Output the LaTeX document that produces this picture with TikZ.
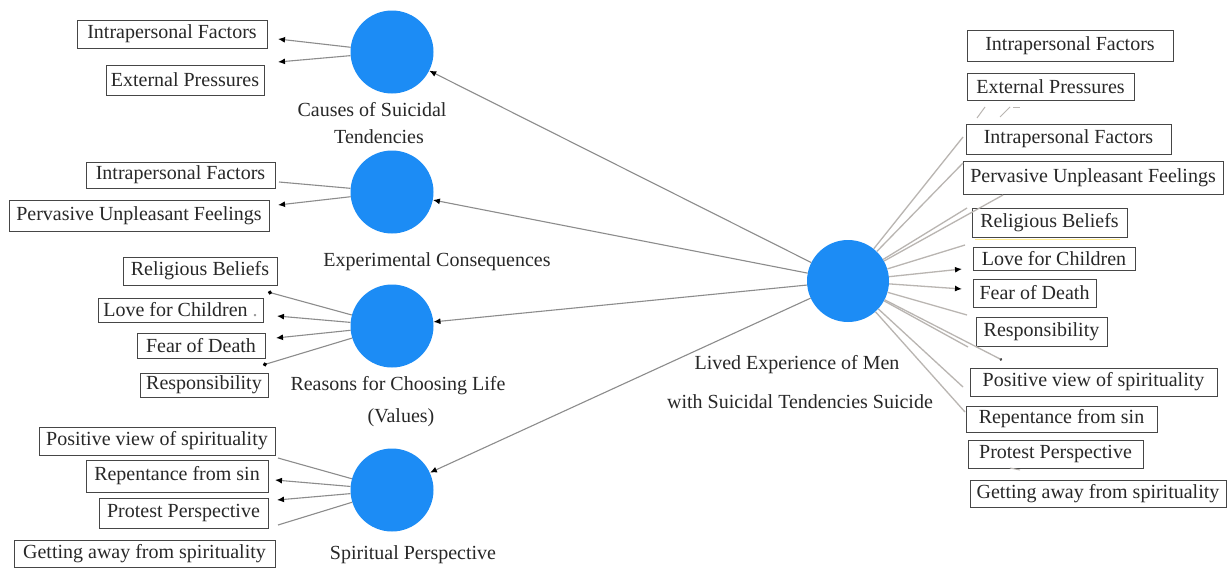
\documentclass[tikz,border=0pt]{standalone}
\usepackage{fontspec}
\setmainfont{Liberation Serif}
\newfontfamily\timesfont{Liberation Serif}
\usetikzlibrary{arrows.meta}
\definecolor{nodeblue}{RGB}{28,140,245}
\definecolor{txt}{RGB}{40,40,40}
\definecolor{edgegray}{RGB}{140,140,140}
\definecolor{rightgray}{RGB}{185,181,177}
\definecolor{boxgray}{RGB}{70,70,70}
\tikzset{
  lat/.style={circle, fill=nodeblue, minimum size=83pt, inner sep=0pt},
  ind/.style={draw=boxgray, line width=0.8pt, inner sep=0pt, text=txt, font=\timesfont\fontsize{20}{24}\selectfont},
  lbl/.style={text=txt, font=\timesfont\fontsize{20}{24}\selectfont, inner sep=0pt},
  lconn/.style={draw=edgegray, line width=1.1pt},
  rconn/.style={draw=rightgray, line width=1.3pt},
  tipa/.style={-{Latex[length=7pt,width=6pt,color=black]}},
  tipd/.style={-{Circle[length=4pt,color=black]}},
}
\begin{document}
\begin{tikzpicture}[x=1pt,y=-1pt]
\useasboundingbox (0,0) rectangle (1230,570);
\fill[white] (0,0) rectangle (1230,570);

% latent circles
\node[lat] (c1) at (392,52) {};
\node[lat] (c2) at (392,192) {};
\node[lat] (c3) at (392,326) {};
\node[lat] (c4) at (392,490) {};
\node[lat, minimum size=82pt] (cc) at (848,281) {};

% circle labels
\node[lbl] (c1a) at (372,110) {Causes of Suicidal};
\node[lbl] (c1b) at (379,137) {Tendencies};
\node[lbl] (c2a) at (437,262) {Experimental Consequences};
\node[lbl] (c3a) at (398,386) {Reasons for Choosing Life};
\node[lbl] (c3b) at (401,418) {(Values)};
\node[lbl] (c4a) at (413,555) {Spiritual Perspective};
\node[lbl] (cca) at (797,365) {Lived Experience of Men};
\node[lbl] (ccb) at (800,402) {with Suicidal Tendencies Suicide};

% left boxes
\node[ind, minimum width=190pt, minimum height=28pt] (l1) at (172,34) {Intrapersonal Factors};
\node[ind, minimum width=158pt, minimum height=30pt] (l2) at (185,80) {External Pressures};
\node[ind, minimum width=189pt, minimum height=26pt] (l3) at (180.5,175) {Intrapersonal Factors};
\node[ind, minimum width=260pt, minimum height=31pt] (l4) at (139,215.5) {Pervasive Unpleasant Feelings};
\node[ind, minimum width=154pt, minimum height=28pt] (l5) at (200,271) {Religious Beliefs};
\node[ind, minimum width=165pt, minimum height=24pt] (l6) at (180.5,310) {Love for Children \textcolor{black!40}{.}};
\node[ind, minimum width=128pt, minimum height=25pt] (l7) at (201,345.5) {Fear of Death};
\node[ind, minimum width=128pt, minimum height=24pt] (l8) at (204,385) {Responsibility};
\node[ind, minimum width=236pt, minimum height=28pt] (l9) at (157,441) {Positive view of spirituality};
\node[ind, minimum width=182pt, minimum height=32pt] (l10) at (177,476) {Repentance from sin};
\node[ind, minimum width=169pt, minimum height=30pt] (l11) at (183.5,513) {Protest Perspective};
\node[ind, minimum width=261pt, minimum height=27pt] (l12) at (144.5,553.5) {Getting away from spirituality};

% right boxes
\node[ind, minimum width=206pt, minimum height=31pt] (r1) at (1070,45.5) {Intrapersonal Factors};
\node[ind, minimum width=167pt, minimum height=27pt] (r2) at (1050.5,86.5) {External Pressures};
\node[ind, minimum width=205pt, minimum height=30pt] (r3) at (1068.5,139) {Intrapersonal Factors};
\node[ind, minimum width=260pt, minimum height=33pt] (r4) at (1093,177.5) {Pervasive Unpleasant Feelings};
\node[ind, minimum width=155pt, minimum height=29pt] (r5) at (1049.5,222.5) {Religious Beliefs};
\node[ind, minimum width=162pt, minimum height=23pt] (r6) at (1054,258.5) {Love for Children};
\node[ind, minimum width=123pt, minimum height=28pt] (r7) at (1034.5,293) {Fear of Death};
\node[ind, minimum width=131pt, minimum height=29pt] (r8) at (1041.5,331.5) {Responsibility};
\node[ind, minimum width=247pt, minimum height=28pt] (r9) at (1093.5,382) {Positive view of spirituality};
\node[ind, minimum width=191pt, minimum height=26pt] (r10) at (1061.5,419) {Repentance from sin};
\node[ind, minimum width=175pt, minimum height=28pt] (r11) at (1055.5,454) {Protest Perspective};
\node[ind, minimum width=256pt, minimum height=27pt] (r12) at (1098,493.5) {Getting away from spirituality};

% left connector ends
\coordinate (e1a) at (278,39);
\coordinate (e1b) at (278,62);
\coordinate (e2a) at (279,182);
\coordinate (e2b) at (278,205);
\coordinate (e3a) at (268,292);
\coordinate (e3b) at (277,316);
\coordinate (e3c) at (276,338);
\coordinate (e3d) at (263,365);
\coordinate (e4a) at (278,458);
\coordinate (e4b) at (275,480);
\coordinate (e4c) at (277,500);
\coordinate (e4d) at (278,525);

\draw[lconn, tipa] (c1) -- (e1a);
\draw[lconn, tipa] (c1) -- (e1b);
\draw[lconn] (c2) -- (e2a);
\draw[lconn, tipa] (c2) -- (e2b);
\draw[lconn, tipd] (c3) -- (e3a);
\draw[lconn, tipa] (c3) -- (e3b);
\draw[lconn, tipa] (c3) -- (e3c);
\draw[lconn, tipd] (c3) -- (e3d);
\draw[lconn] (c4) -- (e4a);
\draw[lconn, tipa] (c4) -- (e4b);
\draw[lconn, tipa] (c4) -- (e4c);
\draw[lconn] (c4) -- (e4d);

% central to left circles
\draw[lconn, tipa] (cc) -- (c1);
\draw[lconn, tipa] (cc) -- (c2);
\draw[lconn, tipa] (cc) -- (c3);
\draw[lconn, tipa] (cc) -- (c4);

% right connector ends
\coordinate (q1) at (963,137);
\coordinate (q2) at (963,163);
\coordinate (q3) at (1003,195);
\coordinate (q4) at (967,208);
\coordinate (q5) at (965,245);
\coordinate (q6) at (962,269);
\coordinate (q7) at (962,289);
\coordinate (q8) at (967,315);
\coordinate (q9) at (968,347);
\coordinate (q10) at (1002,360);
\coordinate (q11) at (963,387);
\coordinate (q12) at (965,412);

\draw[rconn] (cc) -- (q1);
\draw[rconn] (cc) -- (q2);
\draw[rconn] (cc) -- (q3);
\draw[rconn] (cc) -- (q4);
\draw[rconn] (cc) -- (q5);
\draw[rconn, tipa] (cc) -- (q6);
\draw[rconn, tipa] (cc) -- (q7);
\draw[rconn] (cc) -- (q8);
\draw[rconn] (cc) -- (q9);
\draw[rconn, -{Circle[length=2.5pt,color=black!70]}] (cc) -- (q10);
\draw[rconn] (cc) -- (q11);
\draw[rconn] (cc) -- (q12);

% faint fragments near right boxes
\coordinate (f1a) at (977,118); \coordinate (f1b) at (985,107);
\coordinate (f2a) at (1000,117); \coordinate (f2b) at (1010,107);
\coordinate (f3a) at (1013,107); \coordinate (f3b) at (1020,107);
\coordinate (f4a) at (1010,468); \coordinate (f4b) at (1020,470);
\draw[rconn, line width=1pt] (f1a) -- (f1b);
\draw[rconn, line width=1pt] (f2a) -- (f2b);
\draw[rconn, line width=1pt] (f3a) -- (f3b);
\draw[rconn, line width=1pt] (f4a) -- (f4b);
\coordinate (y1) at (975,239); \coordinate (y2) at (1120,239);
\draw[yellow!70!orange, opacity=0.45, line width=1pt] (y1) -- (y2);
\end{tikzpicture}
\end{document}
